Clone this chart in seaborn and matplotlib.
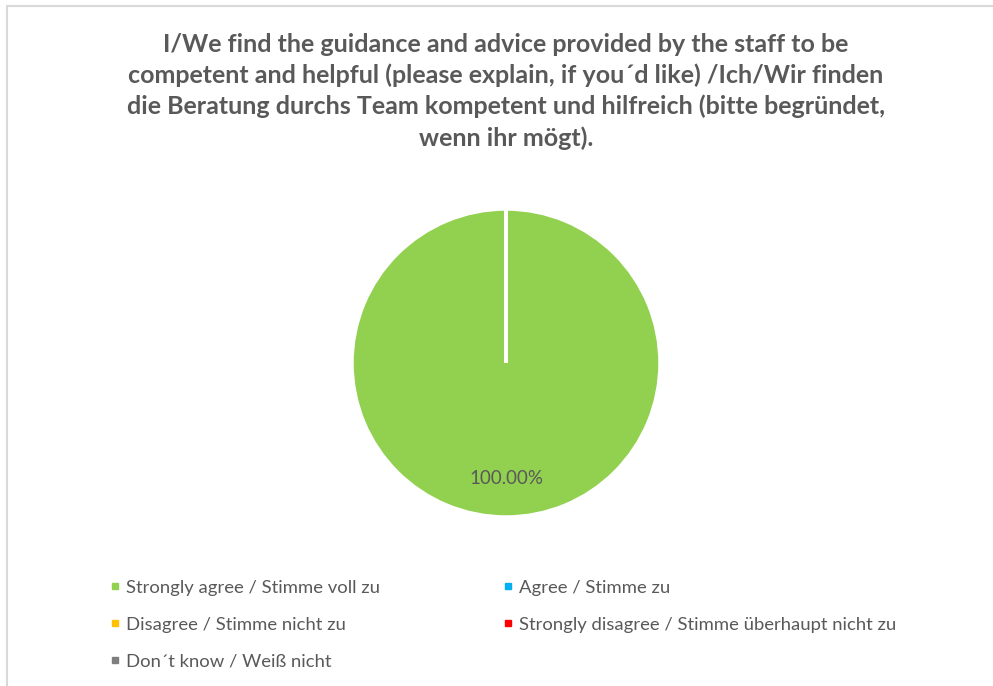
import matplotlib
matplotlib.use("Agg")
import matplotlib.pyplot as plt
from matplotlib.lines import Line2D
import seaborn as sns

title = ("I/We find the guidance and advice provided by the staff to be\n"
         "competent and helpful (please explain, if you\u00b4d like) /Ich/Wir finden\n"
         "die Beratung durchs Team kompetent und hilfreich (bitte begr\u00fcndet,\n"
         "wenn ihr m\u00f6gt).")
categories = ["Strongly agree / Stimme voll zu", "Agree / Stimme zu",
              "Disagree / Stimme nicht zu",
              "Strongly disagree / Stimme \u00fcberhaupt nicht zu",
              "Don\u00b4t know / Wei\u00df nicht"]
shares = [100.0, 0.0, 0.0, 0.0, 0.0]
colors = ["#92D050", "#00B0F0", "#FFC000", "#FF0000", "#7F7F7F"]

sns.set_theme(style="white")
plt.rcParams["font.family"] = ["Lato", "DejaVu Sans"]
text_col = "#595959"

fig = plt.figure(figsize=(9.93, 6.86), dpi=100)
ax = fig.add_axes([(506 - 154) / 993, 1 - (363 + 154) / 686, 308 / 993, 308 / 686])

wedges, _, autotexts = ax.pie(shares, colors=colors, startangle=90, counterclock=False,
                              autopct=lambda p: "%.2f%%" % p if p > 0 else "",
                              pctdistance=0.75,
                              wedgeprops=dict(edgecolor="white", linewidth=2.5))
for t in autotexts:
    t.set_color(text_col)
    t.set_fontsize(13.5)
ax.set_xlim(-1, 1)
ax.set_ylim(-1, 1)
ax.set_aspect("equal")

fig.text(506 / 993, 1 - 33 / 686, title, ha="center", va="top", fontsize=18,
         fontweight="bold", color=text_col, linespacing=1.39)

# legend, filled column-wise so rows read like the original
order = [0, 2, 4, 1, 3]
handles = [Line2D([], [], marker="s", linestyle="", markersize=5,
                  markerfacecolor=colors[i], markeredgecolor=colors[i]) for i in order]
labels = [categories[i] for i in order]
fig.legend(handles, labels, ncol=2, loc="upper left",
           bbox_to_anchor=(93 / 993, 1 - 563 / 686), frameon=False,
           fontsize=13.3, labelcolor=text_col, handlelength=0.6, handletextpad=0.3,
           columnspacing=6.62, labelspacing=1.14)

# chart border (cut off on the right and bottom)
fig.add_artist(Line2D([6.5 / 993, 6.5 / 993], [0, 1 - 5.5 / 686], color="#D9D9D9", lw=1.5))
fig.add_artist(Line2D([6.5 / 993, 1], [1 - 5.5 / 686, 1 - 5.5 / 686], color="#D9D9D9", lw=1.5))

fig.savefig("out.png", dpi=100)
